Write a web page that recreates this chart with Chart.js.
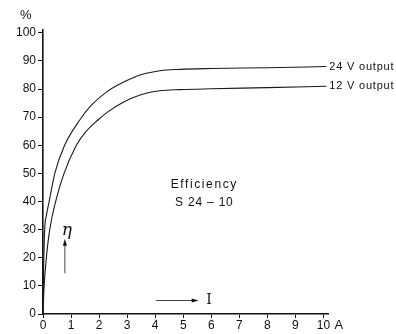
<!DOCTYPE html>
<html>
<head>
<meta charset="utf-8">
<script src="https://cdn.jsdelivr.net/npm/chart.js@4/dist/chart.umd.min.js"></script>
<style>
  html, body { margin: 0; padding: 0; background: #fff; }
  #wrap { width: 396px; height: 334px; }
</style>
</head>
<body>
<div id="wrap"><canvas id="eff"></canvas></div>
<script>
// current in A, efficiency in %
const current24 = [0, 0.02, 0.06, 0.12, 0.22, 0.42, 0.77, 1.31, 1.7, 2.27, 2.86, 3.46, 4.17, 4.9, 6, 8, 10.1];
const eff24     = [0, 15, 30, 35, 40, 50, 60, 69, 74, 79, 82.4, 85, 86.5, 87, 87.3, 87.6, 88];
const current12 = [0, 0.04, 0.12, 0.24, 0.45, 0.75, 1.19, 1.5, 1.96, 2.3, 2.86, 3.46, 4.17, 4.88, 6, 8, 10.1];
const eff12     = [0, 10, 20, 30, 40, 50, 60, 64.5, 69, 71.8, 75.3, 77.9, 79.4, 79.8, 80.1, 80.5, 81];
const seriesNames = ['24 V output', '12 V output'];
const xTicks = [0, 1, 2, 3, 4, 5, 6, 7, 8, 9, 10];
const yTicks = [0, 10, 20, 30, 40, 50, 60, 70, 80, 90, 100];

const font = 'Liberation Sans, Arial, sans-serif';

function toPoints(xs, ys) {
    return xs.map((x, i) => ({ x: x, y: ys[i] }));
}

// text and arrows drawn on top, placed in data coordinates
const notes = {
    id: 'notes',
    afterDraw(chart) {
        const ctx = chart.ctx;
        const xs = chart.scales.x;
        const ys = chart.scales.y;
        const px = v => xs.getPixelForValue(v);
        const py = v => ys.getPixelForValue(v);
        ctx.save();
        ctx.fillStyle = '#111';
        ctx.strokeStyle = '#111';
        ctx.textBaseline = 'middle';

        // line labels
        ctx.font = '11px ' + font;
        ctx.letterSpacing = '0.8px';
        ctx.textAlign = 'left';
        const ds = chart.data.datasets;
        ds.forEach(d => {
            const last = d.data[d.data.length - 1];
            ctx.fillText(d.label, px(last.x) + 3, py(last.y));
        });

        // title in the middle
        ctx.font = '12px ' + font;
        ctx.letterSpacing = '1.6px';
        ctx.textAlign = 'center';
        ctx.fillText('Efficiency', px(5.75), py(46));
        ctx.letterSpacing = '0.8px';
        ctx.fillText('S 24 – 10', px(5.75), py(39.5));

        // axis units
        ctx.letterSpacing = '0px';
        ctx.font = '13px ' + font;
        ctx.textAlign = 'left';
        ctx.fillText('%', 20, 15);
        ctx.font = '13px ' + font;
        ctx.fillText('A', px(10) + 11, 325);

        // eta with arrow up
        ctx.font = 'italic 17px DejaVu Serif, serif';
        ctx.textAlign = 'center';
        ctx.fillText('η', px(0.85), py(29.5));
        ctx.lineWidth = 0.8;
        ctx.beginPath();
        ctx.moveTo(px(0.78), py(14.5));
        ctx.lineTo(px(0.78), py(25.5));
        ctx.stroke();
        ctx.beginPath();
        ctx.moveTo(px(0.78), py(26.8));
        ctx.lineTo(px(0.78) - 2, py(24.3));
        ctx.lineTo(px(0.78) + 2, py(24.3));
        ctx.closePath();
        ctx.fill();

        // I with arrow right
        ctx.beginPath();
        ctx.moveTo(px(4.03), py(4.8));
        ctx.lineTo(px(5.35), py(4.8));
        ctx.stroke();
        ctx.beginPath();
        ctx.moveTo(px(5.55), py(4.8));
        ctx.lineTo(px(5.3), py(4.8) - 2);
        ctx.lineTo(px(5.3), py(4.8) + 2);
        ctx.closePath();
        ctx.fill();
        ctx.font = '14px DejaVu Serif, serif';
        ctx.fillText('I', px(5.92), py(4.9));
        ctx.restore();
    }
};

const data = {
    datasets: [
        {
            label: seriesNames[0],
            data: toPoints(current24, eff24),
            borderColor: '#1a1a1a',
            borderWidth: 1.1,
            pointRadius: 0,
            cubicInterpolationMode: 'monotone',
            fill: false
        },
        {
            label: seriesNames[1],
            data: toPoints(current12, eff12),
            borderColor: '#1a1a1a',
            borderWidth: 1.1,
            pointRadius: 0,
            cubicInterpolationMode: 'monotone',
            fill: false
        }
    ]
};

const tickFont = { family: font, size: 12 };

const config = {
    type: 'line',
    data,
    options: {
        responsive: true,
        maintainAspectRatio: false,
        animation: false,
        clip: false,
        layout: { padding: { top: 30, right: 68, left: 0, bottom: 0 } },
        plugins: {
            legend: { display: false },
            tooltip: { enabled: false }
        },
        scales: {
            x: {
                type: 'linear',
                min: 0,
                max: 10.16,
                afterBuildTicks: s => { s.ticks = xTicks.map(v => ({ value: v })); },
                afterFit: s => { s.height = 20; },
                ticks: { color: '#111', font: tickFont, padding: 0, maxRotation: 0 },
                grid: { drawOnChartArea: false, drawTicks: true, tickLength: 4, color: '#111', lineWidth: 1 },
                border: { color: '#111', width: 1.6 }
            },
            y: {
                min: 0,
                max: 101,
                afterBuildTicks: s => { s.ticks = yTicks.map(v => ({ value: v })); },
                afterFit: s => { s.width = 43; },
                ticks: { color: '#111', font: tickFont, padding: 2 },
                grid: { drawOnChartArea: false, drawTicks: true, tickLength: 5, color: '#111', lineWidth: 1 },
                border: { color: '#111', width: 1.6 }
            }
        }
    },
    plugins: [notes]
};

new Chart(document.getElementById('eff').getContext('2d'), config);
</script>
</body>
</html>
